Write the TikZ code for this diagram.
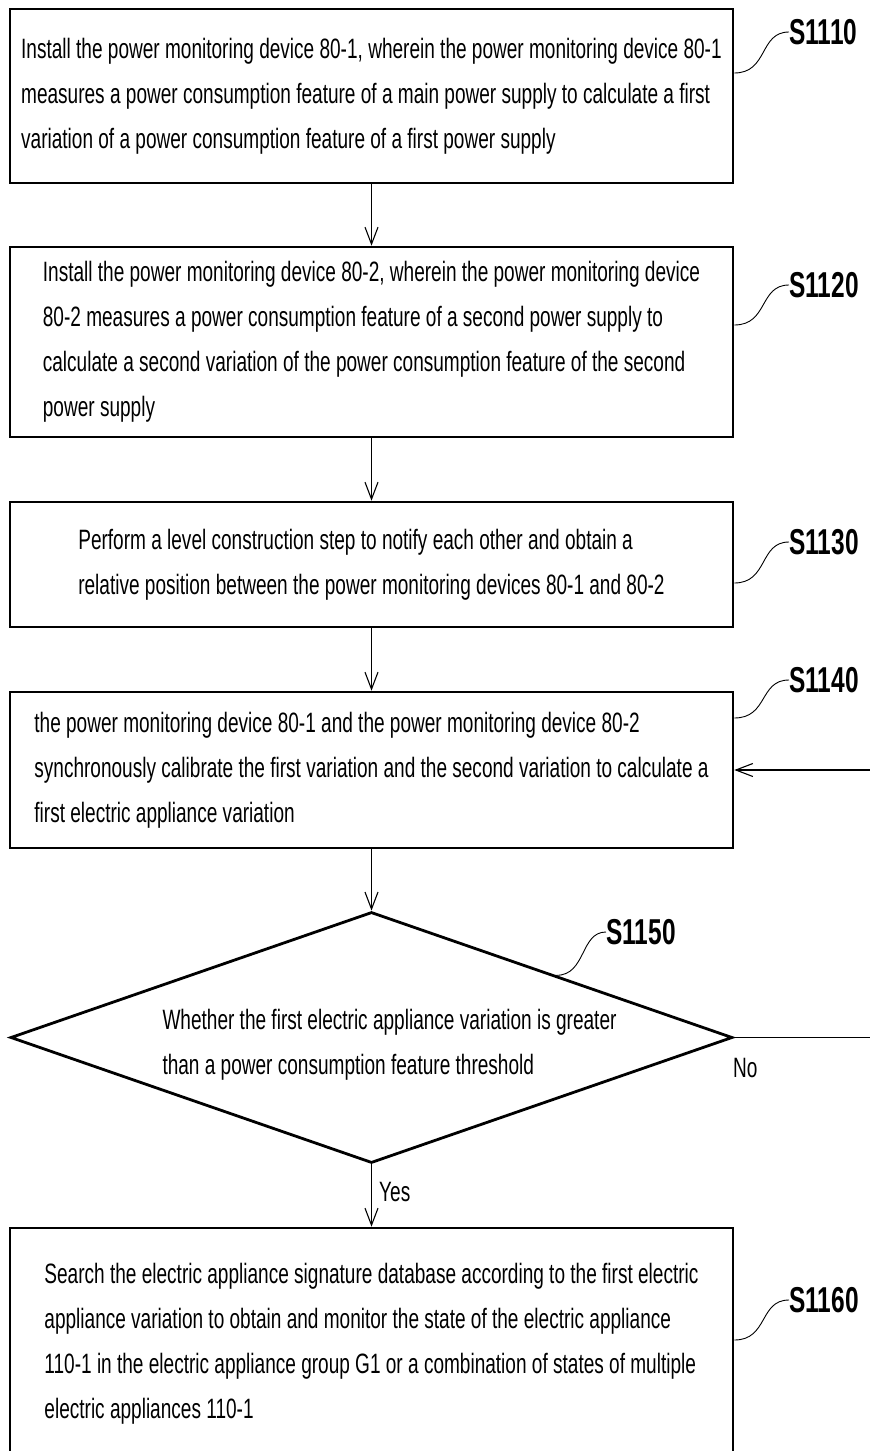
\documentclass[tikz,border=0pt]{standalone}
\usepackage{fontspec}
\setmainfont{Liberation Sans}[FakeStretch=0.68]
\usetikzlibrary{arrows.meta,shapes.geometric,calc}

\begin{document}
\begin{tikzpicture}[
  x=1pt,y=-1pt,
  stepbox/.style={
    draw,
    line width=2.6pt,
    minimum width=723pt,
    inner sep=0pt,
    align=left,
    font=\fontsize{28}{45}\selectfont
  },
  decision/.style={
    diamond,
    draw,
    line width=2.8pt,
    minimum width=722pt,
    minimum height=251pt,
    inner sep=0pt
  },
  flow/.style={
    line width=1.1pt,
    -{Straight Barb[length=17pt,width=13pt]}
  },
  leader/.style={
    line width=0.9pt
  },
  steplabel/.style={
    anchor=west,
    inner sep=0pt,
    font=\fontsize{36}{40}\selectfont\bfseries
  },
  plain/.style={
    inner sep=0pt,
    font=\fontsize{28}{45}\selectfont
  }
]
\useasboundingbox (0,0) rectangle (870,1451);

\node[stepbox, minimum height=174pt] (s1110) at (371.5,96) {Install the power monitoring device 80-1, wherein the power monitoring device 80-1\\measures a power consumption feature of a main power supply to calculate a first\\variation of a power consumption feature of a first power supply};
\node[stepbox, minimum height=190pt] (s1120) at (371.5,342) {Install the power monitoring device 80-2, wherein the power monitoring device\\80-2 measures a power consumption feature of a second power supply to\\calculate a second variation of the power consumption feature of the second\\power supply};
\node[stepbox, minimum height=125pt] (s1130) at (371.5,564.5) {Perform a level construction step to notify each other and obtain a\\relative position between the power monitoring devices 80-1 and 80-2};
\node[stepbox, minimum height=156pt] (s1140) at (371.5,770) {the power monitoring device 80-1 and the power monitoring device 80-2\\synchronously calibrate the first variation and the second variation to calculate a\\first electric appliance variation};
\node[decision] (s1150) at (371.5,1037.5) {};
\node[plain, align=left] (q1150) at (389.5,1045) {Whether the first electric appliance variation is greater\\than a power consumption feature threshold};
\node[stepbox, minimum height=231pt] (s1160) at (371.5,1343.5) {Search the electric appliance signature database according to the first electric\\appliance variation to obtain and monitor the state of the electric appliance\\110-1 in the electric appliance group G1 or a combination of states of multiple\\electric appliances 110-1};

\node[steplabel] (l1110) at (789,32) {S1110};
\node[steplabel] (l1120) at (789,285) {S1120};
\node[steplabel] (l1130) at (789,542) {S1130};
\node[steplabel] (l1140) at (789,680) {S1140};
\node[steplabel] (l1150) at (606,932) {S1150};
\node[steplabel] (l1160) at (789,1300) {S1160};

\node[plain, anchor=west] (no) at (733,1068) {No};
\node[plain, anchor=west] (yes) at (379,1192) {Yes};

\draw[flow] (s1110) -- (s1120);
\draw[flow] (s1120) -- (s1130);
\draw[flow] (s1130) -- (s1140);
\draw[flow] (s1140) -- (s1150);
\draw[flow] (s1150) -- (s1160);
\draw[flow] (s1150.east) -- ++(150,0) |- (s1140.east);

\draw[leader] ([yshift=23pt]s1110.east) .. controls +(34,0) and +(-30,0) .. (l1110.west);
\draw[leader] ([yshift=17pt]s1120.east) .. controls +(34,0) and +(-30,0) .. (l1120.west);
\draw[leader] ([yshift=-18.5pt]s1130.east) .. controls +(34,0) and +(-30,0) .. (l1130.west);
\draw[leader] ([yshift=52pt]s1140.east) .. controls +(34,0) and +(-30,0) .. (l1140.west);
\draw[leader] ($(s1150.north)!0.51!(s1150.east)$) .. controls +(30,0) and +(-26,0) .. (l1150.west);
\draw[leader] ([yshift=3.5pt]s1160.east) .. controls +(34,0) and +(-30,0) .. (l1160.west);
\end{tikzpicture}
\end{document}
